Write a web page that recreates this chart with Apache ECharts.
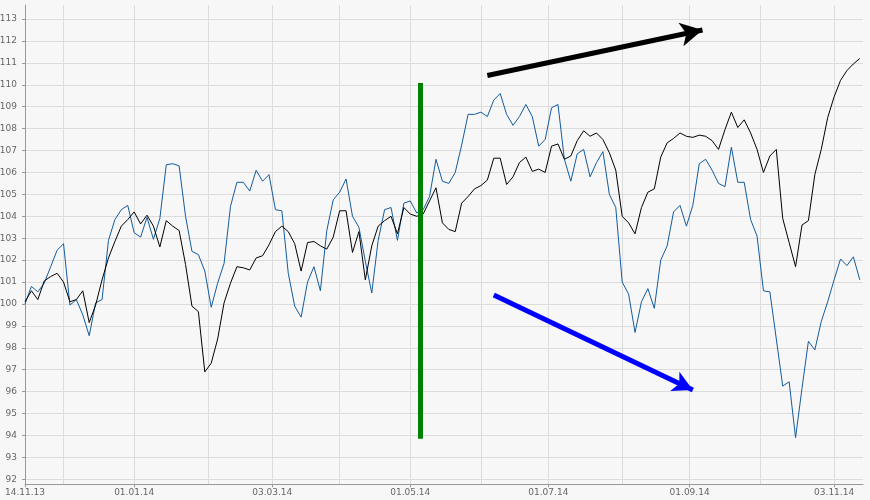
<!DOCTYPE html>
<html>
<head>
<meta charset="utf-8">
<script src="https://cdn.jsdelivr.net/npm/echarts@6/dist/echarts.min.js"></script>
<style>
  html, body { margin: 0; padding: 0; background: #f7f7f7; }
  #chart { width: 870px; height: 500px; }
</style>
</head>
<body>
<div id="chart"></div>
<script>
// trading days (weekdays) from 14.11.13 to 14.11.14, values sampled every 2nd day
const firstDay = '2013-11-14';
const lastDay = '2014-11-14';
const tickLabels = ['14.11.13', '01.01.14', '03.03.14', '01.05.14', '01.07.14', '01.09.14', '03.11.14'];
const monthLines = ['02.12.13', '01.01.14', '03.02.14', '03.03.14', '01.04.14', '01.05.14', '02.06.14',
  '01.07.14', '01.08.14', '01.09.14', '01.10.14', '03.11.14'];

const blackValues = [
  100.1, 100.6, 100.2, 101.05, 101.25, 101.4, 101.0, 100.1, 100.2, 100.6,
  99.15, 99.95, 101.1, 102.1, 102.85, 103.55, 103.85, 104.2, 103.65, 104.05,
  103.55, 102.6, 103.8, 103.55, 103.35, 101.8, 99.9, 99.65, 96.9, 97.3,
  98.4, 100.05, 100.95, 101.7, 101.65, 101.55, 102.1, 102.2, 102.7, 103.3,
  103.55, 103.3, 102.75, 101.5, 102.8, 102.85, 102.65, 102.5, 103.05, 104.25,
  104.25, 102.35, 103.3, 101.1, 102.65, 103.55, 103.8, 104.0, 103.2, 104.4,
  104.1, 104.0, 104.1, 104.7, 105.3, 103.7, 103.4, 103.3, 104.6, 104.9,
  105.25, 105.4, 105.65, 106.65, 106.65, 105.45, 105.8, 106.45, 106.7, 106.05,
  106.15, 106.0, 107.2, 107.3, 106.6, 106.75, 107.45, 107.9, 107.65, 107.8,
  107.5, 106.9, 106.1, 104.0, 103.7, 103.2, 104.4, 105.1, 105.25, 106.7,
  107.35, 107.55, 107.8, 107.65, 107.6, 107.7, 107.65, 107.45, 107.05, 107.95,
  108.75, 108.05, 108.4, 107.8, 107.05, 106.0, 106.75, 107.05, 103.9, 102.8,
  101.7, 103.6, 103.8, 105.9, 107.05, 108.5, 109.45, 110.2, 110.65, 110.95,
  111.2
];

const blueValues = [
  100.0, 100.8, 100.55, 100.95, 101.7, 102.45, 102.75, 99.95, 100.2, 99.5,
  98.55, 100.05, 100.2, 102.9, 103.85, 104.3, 104.5, 103.25, 103.05, 103.95,
  102.95, 103.9, 106.35, 106.4, 106.3, 104.0, 102.4, 102.25, 101.5, 99.85,
  100.95, 101.85, 104.45, 105.55, 105.55, 105.15, 106.1, 105.6, 105.9, 104.3,
  104.25, 101.4, 99.9, 99.4, 101.0, 101.7, 100.6, 103.35, 104.75, 105.1,
  105.7, 104.0, 103.5, 101.95, 100.5, 102.9, 104.3, 104.4, 102.9, 104.6,
  104.7, 104.15, 104.3, 104.9, 106.6, 105.6, 105.5, 106.0, 107.25, 108.65,
  108.65, 108.75, 108.55, 109.3, 109.6, 108.65, 108.15, 108.55, 109.1, 108.55,
  107.2, 107.5, 108.95, 109.1, 106.6, 105.6, 106.85, 107.05, 105.8, 106.45,
  106.95, 105.0, 104.4, 101.0, 100.45, 98.7, 100.1, 100.7, 99.8, 102.0,
  102.65, 104.2, 104.5, 103.55, 104.5, 106.4, 106.6, 106.1, 105.5, 105.35,
  107.15, 105.55, 105.55, 103.85, 103.1, 100.6, 100.55, 98.4, 96.25, 96.45,
  93.9, 96.15, 98.3, 97.9, 99.2, 100.1, 101.1, 102.05, 101.75, 102.15,
  101.1
];

// hand drawn marks on the chart: [date, value]
const greenBar = [['06.05.14', 110.08], ['06.05.14', 93.85]];
const blackArrow = [['04.06.14', 110.42], ['05.09.14', 112.5]];
const blueArrow = [['06.06.14', 100.41], ['02.09.14', 96.07]];

function makeDays() {
  const out = [];
  const d = new Date(firstDay + 'T00:00:00Z');
  const end = new Date(lastDay + 'T00:00:00Z');
  while (d <= end) {
    const wd = d.getUTCDay();
    if (wd !== 0 && wd !== 6) {
      const dd = String(d.getUTCDate()).padStart(2, '0');
      const mm = String(d.getUTCMonth() + 1).padStart(2, '0');
      const yy = String(d.getUTCFullYear()).slice(2);
      out.push(dd + '.' + mm + '.' + yy);
    }
    d.setUTCDate(d.getUTCDate() + 1);
  }
  return out;
}
const days = makeDays();

const toSeries = (vals) => vals.map((v, i) => [i * 2, v]);
const toLine = (pts) => pts.map((p) => ({ coord: [days.indexOf(p[0]), p[1]] }));

const chart = echarts.init(document.getElementById('chart'), null, { renderer: 'canvas' });

const labelFont = { color: '#666', fontSize: 9, fontFamily: 'DejaVu Sans' };

const option = {
  animation: false,
  backgroundColor: '#f7f7f7',
  grid: [
    { left: 25, right: 7, top: 5, bottom: 15.7, outerBoundsMode: 'none' },
    { left: 25, right: 7, top: 19, bottom: 20.7, outerBoundsMode: 'none' }
  ],
  xAxis: [
    {
      type: 'category',
      gridIndex: 0,
      data: days,
      boundaryGap: false,
      axisLine: { lineStyle: { color: '#999', width: 1 } },
      axisTick: {
        show: true,
        length: 3,
        lineStyle: { color: '#999' },
        interval: (i, v) => tickLabels.includes(v)
      },
      axisLabel: Object.assign({
        margin: 4,
        interval: (i, v) => tickLabels.includes(v)
      }, labelFont),
      splitLine: {
        show: true,
        lineStyle: { color: '#dcdcdc', width: 1 },
        interval: (i, v) => monthLines.includes(v)
      }
    },
    { type: 'value', gridIndex: 1, show: false, min: 0, max: 1 }
  ],
  yAxis: [
    {
      type: 'value',
      gridIndex: 0,
      min: 91.772,
      max: 113.639,
      axisLine: { show: true, lineStyle: { color: '#999', width: 1 } },
      axisTick: { show: false },
      axisLabel: { show: false },
      splitLine: { show: false }
    },
    {
      type: 'value',
      gridIndex: 1,
      min: 92,
      max: 113,
      interval: 1,
      axisLine: { show: false },
      axisTick: { show: true, length: 3, lineStyle: { color: '#999' } },
      axisLabel: Object.assign({ margin: 8 }, labelFont),
      splitLine: { show: true, lineStyle: { color: '#dcdcdc', width: 1 } }
    }
  ],
  series: [
    {
      type: 'line',
      name: 'blue',
      xAxisIndex: 0,
      yAxisIndex: 0,
      data: toSeries(blueValues),
      symbol: 'none',
      silent: true,
      lineStyle: { color: '#135c9f', width: 1 },
      markLine: {
        silent: true,
        symbol: ['none', 'arrow'],
        symbolSize: [16, 20],
        label: { show: false },
        emphasis: { disabled: true },
        lineStyle: { color: '#0000ff', width: 5, type: 'solid' },
        data: [toLine(blueArrow)]
      }
    },
    {
      type: 'line',
      name: 'black',
      xAxisIndex: 0,
      yAxisIndex: 0,
      data: toSeries(blackValues),
      symbol: 'none',
      silent: true,
      lineStyle: { color: '#000', width: 1 },
      markLine: {
        silent: true,
        symbol: ['none', 'arrow'],
        symbolSize: [18, 22],
        label: { show: false },
        emphasis: { disabled: true },
        lineStyle: { color: '#000', width: 5, type: 'solid' },
        data: [toLine(blackArrow)]
      }
    },
    {
      type: 'line',
      name: 'marker',
      xAxisIndex: 0,
      yAxisIndex: 0,
      data: [],
      silent: true,
      markLine: {
        silent: true,
        symbol: ['none', 'none'],
        label: { show: false },
        emphasis: { disabled: true },
        lineStyle: { color: '#008000', width: 5, type: 'solid' },
        data: [toLine(greenBar)]
      }
    }
  ]
};

chart.setOption(option);
</script>
</body>
</html>
